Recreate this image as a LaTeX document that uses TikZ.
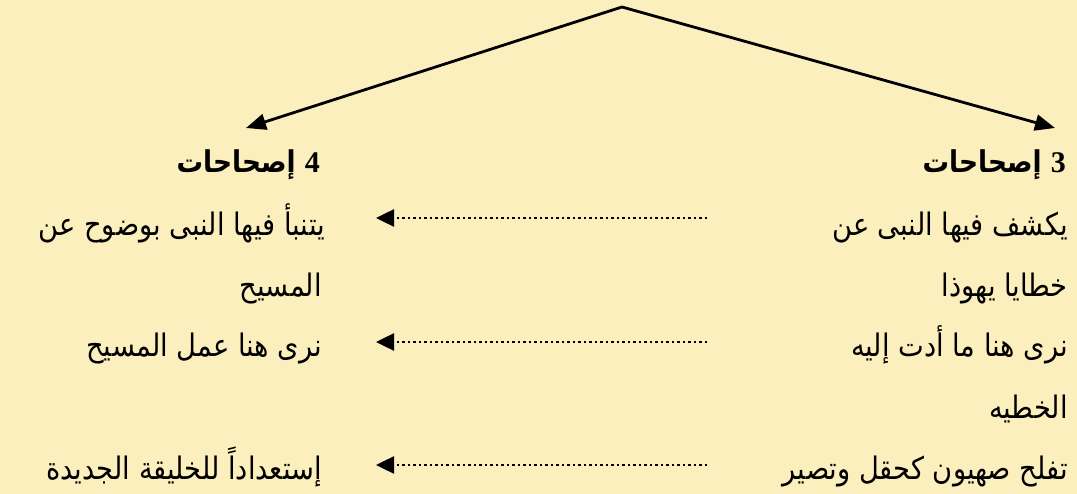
\documentclass[tikz,border=0pt]{standalone}
\usepackage{fontspec}
\setmainfont{Liberation Serif}
\newfontfamily\arabicfont[Script=Arabic, FakeStretch=0.88]{DejaVu Sans}
\TeXXeTstate=1
\usetikzlibrary{arrows.meta}
\definecolor{paper}{HTML}{FCEFBE}

\begin{document}
\begin{tikzpicture}[x=1pt, y=-1pt]
        \tikzstyle{line} = [draw, line width=2.8pt, {Triangle[length=20pt, width=16pt]}-{Triangle[length=20pt, width=16pt]}]
        \tikzstyle{dotarrow} = [draw, line width=2.5pt, dash pattern=on 2.5pt off 3pt, -{Triangle[length=18pt, width=17pt]}]
        \tikzstyle{txt} = [anchor=base east, inner sep=0pt, font=\arabicfont\fontsize{31}{36}\selectfont]
        \tikzstyle{head} = [txt, font=\arabicfont\bfseries\fontsize{30}{36}\selectfont]

        \fill [paper] (0,0) rectangle (1077,494);

        % the two columns
        \node [head] (h3) at (1066,173) {\beginR{\rmfamily 3} إصحاحات\endR};
        \node [txt] (r1) at (1068,236) {\beginR يكشف فيها النبى عن\endR};
        \node [txt] (r2) at (1068,297) {\beginR خطايا يهوذا\endR};
        \node [txt] (r3) at (1068,357) {\beginR نرى هنا ما أدت إليه\endR};
        \node [txt] (r4) at (1068,418) {\beginR الخطيه\endR};
        \node [txt] (r5) at (1068,479) {\beginR تفلح صهيون كحقل وتصير\endR};

        \node [head] (h4) at (320,173) {\beginR{\rmfamily 4} إصحاحات\endR};
        \node [txt] (l1) at (325,236) {\beginR يتنبأ فيها النبى بوضوح عن\endR};
        \node [txt] (l2) at (322,297) {\beginR المسيح\endR};
        \node [txt] (l3) at (322,357) {\beginR نرى هنا عمل المسيح\endR};
        \node [txt] (l4) at (322,479) {\beginR إستعداداً للخليقة الجديدة\endR};

        % top split
        \coordinate (apex) at (622,7);
        \coordinate (tip4) at (246,128);
        \coordinate (tip3) at (1055,128);
        \draw [line] (tip4) -- (apex) -- (tip3);

        % dotted links
        \coordinate (a1) at (707,218);
        \coordinate (b1) at (376,218);
        \coordinate (a3) at (707,342);
        \coordinate (b3) at (376,342);
        \coordinate (a5) at (707,465);
        \coordinate (b5) at (376,465);
        \draw [dotarrow] (a1) -- (b1);
        \draw [dotarrow] (a3) -- (b3);
        \draw [dotarrow] (a5) -- (b5);
    \end{tikzpicture}
\end{document}
